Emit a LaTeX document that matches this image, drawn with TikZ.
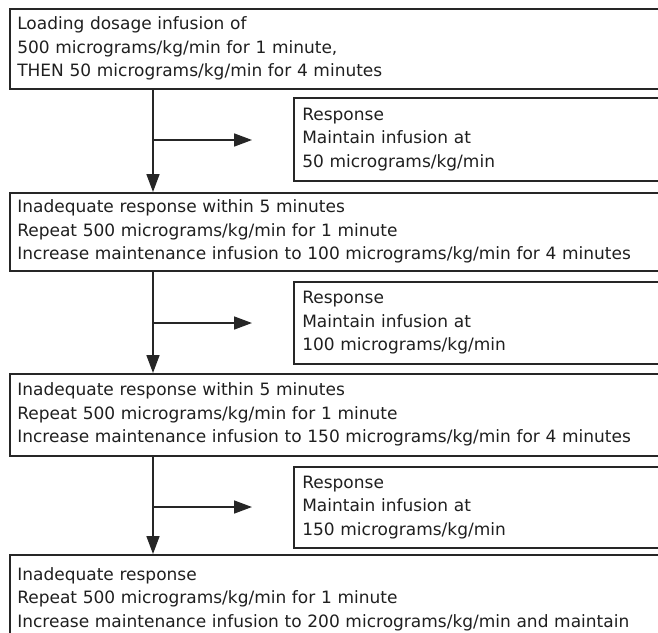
\documentclass[tikz,border=0pt]{standalone}
\usepackage{fontspec}
\setmainfont{DejaVu Sans}
\usetikzlibrary{arrows.meta}
\begin{document}
\begin{tikzpicture}[x=1pt,y=-1pt,
  every node/.style={font=\fontsize{17}{23.5}\selectfont, text=black!88},
  mainbox/.style={draw=black!85, line width=1.6pt, anchor=north west, text width=680pt, align=left, inner xsep=7.5pt, inner ysep=0pt},
  respbox/.style={draw=black!85, line width=1.6pt, anchor=north west, text width=380pt, align=left, inner xsep=8.5pt, inner ysep=0pt},
  link/.style={draw=black!85, line width=1.6pt, -{Triangle[length=18pt,width=13pt]}}]
\useasboundingbox (0,0) rectangle (658,632);
\clip (0,0) rectangle (658,632);
\node[mainbox, minimum height=80pt] (b1) at (9,8) {Loading dosage infusion of\\500 micrograms/kg/min for 1 minute,\\THEN 50 micrograms/kg/min for 4 minutes};
\node[respbox, minimum height=83pt] (r1) at (293,97) {Response\\Maintain infusion at\\50 micrograms/kg/min};
\node[mainbox, minimum height=78pt] (b2) at (9,192) {Inadequate response within 5 minutes\\Repeat 500 micrograms/kg/min for 1 minute\\Increase maintenance infusion to 100 micrograms/kg/min for 4 minutes};
\node[respbox, minimum height=82pt] (r2) at (293,281) {Response\\Maintain infusion at\\100 micrograms/kg/min};
\node[mainbox, minimum height=82pt] (b3) at (9,373) {Inadequate response within 5 minutes\\Repeat 500 micrograms/kg/min for 1 minute\\Increase maintenance infusion to 150 micrograms/kg/min for 4 minutes};
\node[respbox, minimum height=81pt] (r3) at (293,466) {Response\\Maintain infusion at\\150 micrograms/kg/min};
\node[mainbox, minimum height=88pt] (b4) at (9,554) {Inadequate response\\Repeat 500 micrograms/kg/min for 1 minute\\Increase maintenance infusion to 200 micrograms/kg/min and maintain};
\coordinate (s) at (153,0);
\coordinate (j1) at (153,140);
\coordinate (e1) at (252,140);
\coordinate (j2) at (153,323);
\coordinate (e2) at (252,323);
\coordinate (j3) at (153,507);
\coordinate (e3) at (252,507);
\draw[link] (b1.south -| s) -- (b2.north -| s);
\draw[link] (b2.south -| s) -- (b3.north -| s);
\draw[link] (b3.south -| s) -- (b4.north -| s);
\draw[link] (j1) -- (e1);
\draw[link] (j2) -- (e2);
\draw[link] (j3) -- (e3);
\end{tikzpicture}
\end{document}
